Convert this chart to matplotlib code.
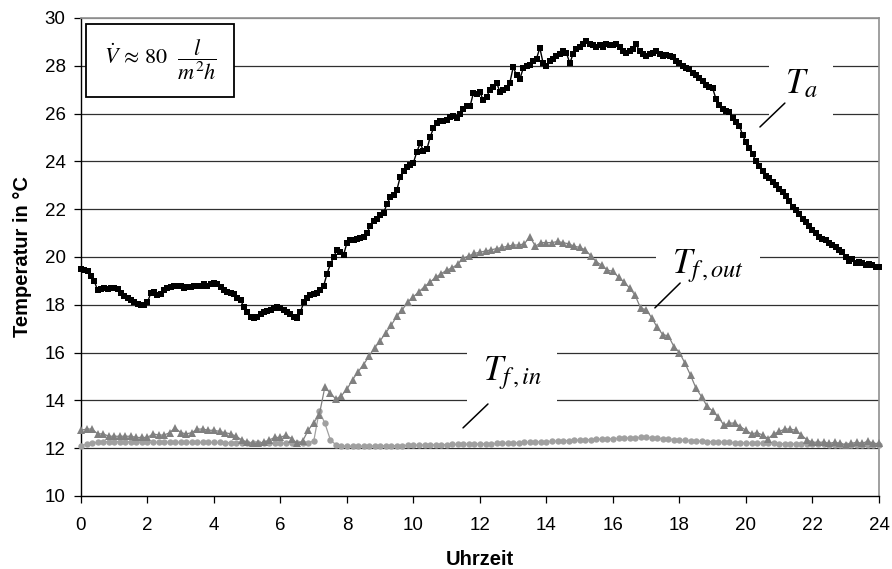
import numpy as np
import matplotlib
matplotlib.use("Agg")
from matplotlib import pyplot as plt
from matplotlib.patches import Rectangle

plt.rcParams['font.family'] = ['Liberation Sans', 'DejaVu Sans']
plt.rcParams['mathtext.fontset'] = 'stix'

# ambient temperature, one value every 0.1 h
t_a = np.arange(241) / 10.0
T_a = [
    19.5, 19.45, 19.4, 19.2, 19.0, 18.6, 18.65, 18.7, 18.65, 18.7,
    18.7, 18.65, 18.5, 18.35, 18.3, 18.2, 18.1, 18.05, 18.0, 18.0,
    18.1, 18.5, 18.55, 18.4, 18.45, 18.6, 18.7, 18.75, 18.8, 18.8,
    18.8, 18.7, 18.75, 18.75, 18.8, 18.8, 18.8, 18.85, 18.8, 18.85,
    18.9, 18.85, 18.75, 18.6, 18.55, 18.5, 18.45, 18.3, 18.2, 17.9,
    17.7, 17.5, 17.45, 17.5, 17.6, 17.7, 17.75, 17.8, 17.85, 17.9,
    17.85, 17.8, 17.7, 17.6, 17.5, 17.45, 17.7, 18.1, 18.3, 18.4,
    18.45, 18.5, 18.6, 18.8, 19.3, 19.7, 20.0, 20.3, 20.2, 20.1,
    20.6, 20.7, 20.7, 20.75, 20.8, 20.85, 21.0, 21.3, 21.5, 21.6,
    21.75, 21.85, 22.2, 22.5, 22.6, 22.8, 23.35, 23.6, 23.75, 23.85,
    23.95, 24.4, 24.75, 24.45, 24.5, 25.0, 25.4, 25.6, 25.7, 25.7,
    25.75, 25.85, 25.9, 25.8, 26.0, 26.2, 26.3, 26.3, 26.85, 26.8,
    26.9, 26.55, 26.7, 27.0, 27.1, 27.3, 26.9, 27.0, 27.05, 27.3,
    27.95, 27.6, 27.45, 27.9, 28.0, 28.05, 28.2, 28.3, 28.75, 28.1,
    28.0, 28.2, 28.3, 28.4, 28.5, 28.6, 28.55, 28.1, 28.5, 28.7,
    28.8, 28.9, 29.05, 28.9, 28.85, 28.8, 28.85, 28.8, 28.9, 28.85,
    28.85, 28.9, 28.8, 28.6, 28.55, 28.6, 28.7, 28.9, 28.6, 28.5,
    28.4, 28.5, 28.55, 28.6, 28.5, 28.4, 28.45, 28.4, 28.35, 28.2,
    28.1, 28.0, 27.9, 27.85, 27.7, 27.6, 27.5, 27.35, 27.2, 27.1,
    27.05, 26.6, 26.35, 26.2, 26.1, 26.05, 25.8, 25.65, 25.5, 25.1,
    24.8, 24.55, 24.3, 24.0, 23.8, 23.6, 23.4, 23.3, 23.15, 23.0,
    22.85, 22.7, 22.55, 22.35, 22.1, 21.95, 21.8, 21.6, 21.45, 21.3,
    21.15, 21.0, 20.85, 20.75, 20.7, 20.6, 20.5, 20.4, 20.3, 20.2,
    20.0, 19.85, 19.9, 19.75, 19.8, 19.75, 19.65, 19.7, 19.65, 19.6,
    19.6,
]

# fluid temperatures, one value every 10 min
t_f = np.arange(145) / 6.0
T_f_out = [
    12.75, 12.8, 12.8, 12.6, 12.6, 12.5,
    12.5, 12.5, 12.5, 12.5, 12.45, 12.45,
    12.45, 12.6, 12.55, 12.55, 12.65, 12.85,
    12.65, 12.6, 12.65, 12.8, 12.8, 12.75,
    12.75, 12.7, 12.65, 12.6, 12.5, 12.35,
    12.25, 12.2, 12.2, 12.25, 12.35, 12.45,
    12.45, 12.55, 12.4, 12.2, 12.3, 12.75,
    13.07, 13.4, 14.55, 14.3, 14.05, 14.2,
    14.47, 14.86, 15.2, 15.5, 15.86, 16.2,
    16.5, 16.83, 17.15, 17.53, 17.8, 18.13,
    18.34, 18.55, 18.76, 18.95, 19.15, 19.3,
    19.45, 19.55, 19.7, 19.95, 20.05, 20.15,
    20.2, 20.25, 20.3, 20.35, 20.4, 20.45,
    20.5, 20.5, 20.55, 20.85, 20.45, 20.6,
    20.6, 20.6, 20.65, 20.6, 20.55, 20.45,
    20.4, 20.3, 20.05, 19.8, 19.65, 19.45,
    19.4, 19.15, 18.95, 18.7, 18.4, 17.85,
    17.8, 17.45, 17.05, 16.75, 16.7, 16.25,
    16.0, 15.55, 15.05, 14.5, 14.15, 13.75,
    13.55, 13.3, 12.97, 13.05, 13.05, 12.9,
    12.75, 12.6, 12.65, 12.55, 12.4, 12.6,
    12.7, 12.8, 12.8, 12.75, 12.55, 12.35,
    12.25, 12.25, 12.25, 12.2, 12.25, 12.2,
    12.15, 12.2, 12.25, 12.2, 12.3, 12.2,
    12.2,
]
T_f_in = [
    12.1, 12.17, 12.22, 12.25, 12.27, 12.28,
    12.28, 12.28, 12.27, 12.27, 12.26, 12.25,
    12.25, 12.25, 12.25, 12.25, 12.25, 12.25,
    12.24, 12.25, 12.25, 12.24, 12.24, 12.24,
    12.24, 12.24, 12.23, 12.23, 12.22, 12.22,
    12.21, 12.2, 12.2, 12.2, 12.21, 12.21,
    12.21, 12.21, 12.22, 12.22, 12.22, 12.23,
    12.3, 13.55, 13.05, 12.35, 12.14, 12.1,
    12.08, 12.08, 12.08, 12.08, 12.09, 12.09,
    12.1, 12.1, 12.1, 12.11, 12.11, 12.12,
    12.12, 12.13, 12.13, 12.14, 12.14, 12.15,
    12.15, 12.16, 12.16, 12.17, 12.17, 12.18,
    12.18, 12.19, 12.19, 12.2, 12.2, 12.21,
    12.22, 12.23, 12.24, 12.25, 12.26, 12.27,
    12.28, 12.29, 12.3, 12.31, 12.32, 12.33,
    12.34, 12.35, 12.36, 12.37, 12.38, 12.39,
    12.4, 12.41, 12.42, 12.43, 12.44, 12.45,
    12.45, 12.44, 12.42, 12.4, 12.38, 12.36,
    12.35, 12.33, 12.32, 12.3, 12.29, 12.28,
    12.27, 12.26, 12.25, 12.24, 12.23, 12.22,
    12.22, 12.21, 12.21, 12.2, 12.2, 12.2,
    12.19, 12.19, 12.18, 12.18, 12.18, 12.17,
    12.17, 12.16, 12.16, 12.15, 12.15, 12.15,
    12.14, 12.14, 12.14, 12.14, 12.14, 12.14,
    12.14,
]

x_ticks = list(range(0, 25, 2))
y_ticks = list(range(10, 31, 2))

fig = plt.figure(figsize=(8.92, 5.69), dpi=100)
ax = fig.add_axes([0.0908, 0.1283, 0.8946, 0.8401])

# horizontal grid like the Excel original
for yv in y_ticks[1:]:
    ax.axhline(yv, color='#808080' if yv == 30 else '#303030', lw=0.9, zorder=0.5)

ax.plot(t_f, T_f_in, color='#a0a0a0', lw=0.9, marker='o', markersize=4.6,
        markeredgewidth=0, zorder=3, clip_on=False)
ax.plot(t_f, T_f_out, color='#808080', lw=0.9, marker='^', markersize=5.8,
        markeredgewidth=0, zorder=3.5, clip_on=False)
ax.plot(t_a, T_a, color='black', lw=1.0, marker='s', markersize=4.8,
        markeredgewidth=0, zorder=4, clip_on=False)

ax.set_xlim(0, 24)
ax.set_ylim(10, 30)
ax.set_xticks(x_ticks)
ax.set_yticks(y_ticks)
ax.tick_params(axis='both', direction='out', length=5, width=0.9, labelsize=13.5)
ax.tick_params(axis='x', pad=10)
ax.tick_params(axis='y', pad=6)

for s in ['left', 'bottom']:
    ax.spines[s].set_color('black')
    ax.spines[s].set_linewidth(1.0)
for s in ['top', 'right']:
    ax.spines[s].set_color('#909090')
    ax.spines[s].set_linewidth(1.2)

ax.set_xlabel('Uhrzeit', fontsize=14.5, fontweight='bold')
ax.set_ylabel('Temperatur in °C', fontsize=14.5, fontweight='bold')
ax.xaxis.set_label_coords(0.5, -0.113)
ax.yaxis.set_label_coords(-0.061, 0.5)

# flow rate box
ax.add_patch(Rectangle((0.0063, 0.8347), 0.1854, 0.1527, transform=ax.transAxes,
                       facecolor='white', edgecolor='black', lw=1.3, zorder=5))
ax.text(0.099, 0.912, r'$\dot{V}\,\approx\,80\ \ \dfrac{l}{m^2h}$', transform=ax.transAxes,
        fontsize=16, ha='center', va='center', zorder=6)

# curve labels with white background and leader lines
box = dict(boxstyle='square,pad=0.45', facecolor='white', edgecolor='none')
ax.text(21.17, 26.86, r'$T_a$', fontsize=25, ha='left', va='baseline', bbox=box, zorder=2)
ax.annotate('', xy=(20.42, 25.44), xytext=(21.17, 26.44),
            arrowprops=dict(arrowstyle='-', color='black', lw=1.1, shrinkA=0, shrinkB=0), zorder=2.5)
ax.text(17.77, 19.33, r'$T_{f\,,out}$', fontsize=25, ha='left', va='baseline', bbox=box, zorder=2)
ax.annotate('', xy=(17.26, 17.87), xytext=(18.02, 18.91),
            arrowprops=dict(arrowstyle='-', color='black', lw=1.1, shrinkA=0, shrinkB=0), zorder=2.5)
ax.text(12.09, 14.85, r'$T_{f\,,in}$', fontsize=25, ha='left', va='baseline', bbox=box, zorder=2)
ax.annotate('', xy=(11.49, 12.85), xytext=(12.24, 13.85),
            arrowprops=dict(arrowstyle='-', color='black', lw=1.1, shrinkA=0, shrinkB=0), zorder=2.5)

fig.savefig('out.png', dpi=100)
